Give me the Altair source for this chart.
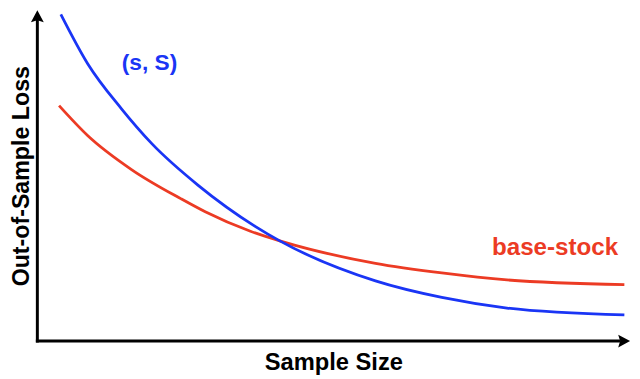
import altair as alt
import pandas as pd

# (s, S) policy curve
blue_x = [4.0, 8.6, 14.3, 19.5, 27.4, 37.1, 41.3, 57.6, 68.9, 80.0, 100.0]
blue_y = [98.8, 83.8, 70.3, 59.7, 47.1, 34.7, 30.3, 18.2, 13.2, 10.0, 7.9]
# base-stock policy curve
red_x = [3.7, 8.6, 16.1, 24.5, 28.6, 36.3, 41.3, 57.6, 68.9, 80.0, 100.0]
red_y = [71.2, 62.1, 51.8, 43.0, 39.1, 33.2, 30.3, 23.5, 20.6, 18.5, 17.1]

label_text = ["(s, S)", "base-stock"]
label_x = [19.1, 88.2]
label_y = [82.0, 25.9]
label_size = [23, 24.5]

x_title = "Sample Size"
y_title = "Out-of-Sample Loss"

BLUE = "#1a35f5"
RED = "#ec3b24"
FONT = "Liberation Sans"

xs = alt.Scale(domain=[-5, 101.3], nice=False, zero=False)
ys = alt.Scale(domain=[-10.75, 100], nice=False, zero=False)

def X(f="x"):
    return alt.X(f"{f}:Q", scale=xs, axis=None)

def Y(f="y"):
    return alt.Y(f"{f}:Q", scale=ys, axis=None)

blue_df = pd.DataFrame({"x": blue_x, "y": blue_y})
red_df = pd.DataFrame({"x": red_x, "y": red_y})

blue_line = alt.Chart(blue_df).mark_line(
    color=BLUE, strokeWidth=2.8, interpolate="monotone"
).encode(x=X(), y=Y())
red_line = alt.Chart(red_df).mark_line(
    color=RED, strokeWidth=2.8, interpolate="monotone"
).encode(x=X(), y=Y())

# axes drawn as arrows
yaxis = alt.Chart(pd.DataFrame({"x": [0], "y": [0], "y2": [97]})).mark_rule(
    color="black", strokeWidth=3, strokeCap="square"
).encode(x=X(), y=Y(), y2="y2:Q")
xaxis = alt.Chart(pd.DataFrame({"x": [0], "x2": [99], "y": [0]})).mark_rule(
    color="black", strokeWidth=3, strokeCap="square"
).encode(x=X(), x2="x2:Q", y=Y())

up_arrow = alt.Chart(pd.DataFrame({"x": [0], "y": [98.06]})).mark_point(
    shape="M0,-1L1,0.85L0,0.55L-1,0.85Z", size=169, filled=True,
    color="black", opacity=1
).encode(x=X(), y=Y())
right_arrow = alt.Chart(pd.DataFrame({"x": [99.88], "y": [0]})).mark_point(
    shape="M1,0L-0.85,1L-0.55,0L-0.85,-1Z", size=169, filled=True,
    color="black", opacity=1
).encode(x=X(), y=Y())

labels_df = pd.DataFrame({"x": label_x, "y": label_y, "t": label_text,
                          "c": [BLUE, RED], "s": label_size})
labels = alt.Chart(labels_df).mark_text(
    font=FONT, fontWeight="bold", align="center", baseline="alphabetic"
).encode(x=X(), y=Y(), text="t:N", color=alt.Color("c:N", scale=None),
         size=alt.Size("s:Q", scale=None))

xt = alt.Chart(pd.DataFrame({"x": [50.5], "y": [-8.8], "t": [x_title]})).mark_text(
    font=FONT, fontSize=24, fontWeight="bold", align="center",
    baseline="alphabetic", color="black"
).encode(x=X(), y=Y(), text="t:N")
yt = alt.Chart(pd.DataFrame({"x": [-1.38], "y": [49.85], "t": [y_title]})).mark_text(
    font=FONT, fontSize=23.5, fontWeight="bold", align="center",
    baseline="alphabetic", angle=270, color="black"
).encode(x=X(), y=Y(), text="t:N")

chart = alt.layer(
    red_line, blue_line, yaxis, xaxis, up_arrow, right_arrow, labels, xt, yt
).properties(
    width=632, height=371, padding=0, autosize=alt.AutoSizeParams(type="none"),
    background="white"
).configure_view(stroke=None)

chart.save("out.html", embed_options={"renderer": "svg", "actions": False})
